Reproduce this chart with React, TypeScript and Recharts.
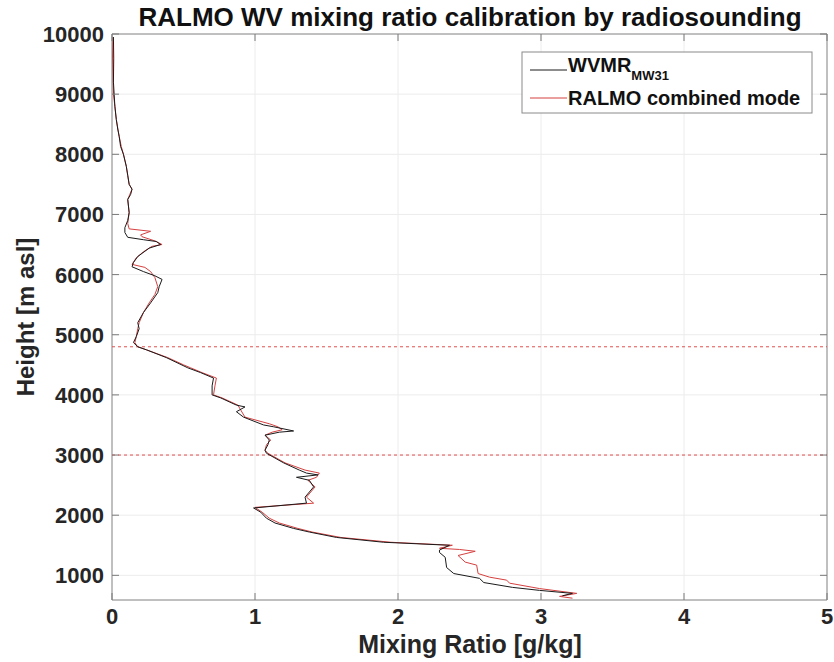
import { ScatterChart, Scatter, XAxis, YAxis, CartesianGrid, ReferenceLine, ReferenceArea } from 'recharts';

const xTicks = [0, 1, 2, 3, 4, 5];
const yTicks = [1000, 2000, 3000, 4000, 5000, 6000, 7000, 8000, 9000, 10000];
const limitHeights = [4800, 3000];

// WVMR (radiosonde) profile, top to bottom
const wvmrHeights = [
  9950, 9600, 9200, 9000, 8800, 8580, 8420, 8300, 8130, 8000, 7800, 7650, 7500, 7420, 7330, 7250, 7030, 6900, 6780,
  6700, 6620, 6580, 6550, 6500, 6440, 6300, 6200, 6130, 6050, 5980, 5920, 5800, 5700, 5530, 5370, 5200, 5100, 4970,
  4870, 4800, 4750, 4620, 4450, 4370, 4280, 4150, 4000, 3950, 3830, 3800, 3720, 3630, 3500, 3470, 3400, 3380, 3330,
  3250, 3170, 3080, 3030, 2870, 2750, 2700, 2670, 2630, 2580, 2470, 2300, 2200, 2120, 2050, 1950, 1870, 1780, 1720,
  1630, 1550, 1500, 1420, 1380, 1300, 1130, 1030, 950, 880, 800, 750, 700, 660,
];
const wvmrValues = [
  0.01, 0.012, 0.01, 0.015, 0.02, 0.03, 0.04, 0.05, 0.06, 0.08, 0.1, 0.11, 0.12, 0.14, 0.13, 0.11, 0.12, 0.11, 0.09,
  0.09, 0.11, 0.22, 0.31, 0.34, 0.26, 0.18, 0.15, 0.14, 0.22, 0.3, 0.35, 0.33, 0.32, 0.27, 0.22, 0.18, 0.19, 0.17,
  0.15, 0.18, 0.24, 0.38, 0.53, 0.62, 0.71, 0.7, 0.7, 0.76, 0.87, 0.93, 0.87, 0.92, 1.06, 1.13, 1.27, 1.17, 1.07,
  1.1, 1.09, 1.07, 1.08, 1.2, 1.31, 1.36, 1.44, 1.29, 1.38, 1.41, 1.35, 1.36, 0.99, 1.04, 1.08, 1.14, 1.27, 1.38,
  1.57, 1.9, 2.36, 2.29, 2.29, 2.33, 2.34, 2.39, 2.57, 2.6, 2.8, 2.99, 3.22, 3.15,
];

// RALMO combined mode profile, top to bottom
const ralmoHeights = [
  9950, 9500, 9000, 8800, 8580, 8300, 8130, 8000, 7800, 7500, 7420, 7250, 7030, 6850, 6760, 6720, 6660, 6630, 6560,
  6500, 6470, 6380, 6280, 6170, 6120, 6050, 5950, 5800, 5670, 5530, 5370, 5200, 5100, 4970, 4870, 4800, 4750, 4620,
  4500, 4450, 4370, 4280, 4150, 4000, 3950, 3830, 3750, 3630, 3520, 3470, 3420, 3380, 3330, 3250, 3170, 3080, 3030,
  2870, 2750, 2700, 2630, 2580, 2470, 2300, 2200, 2130, 2050, 1950, 1870, 1780, 1720, 1630, 1550, 1500, 1450, 1430,
  1400, 1330, 1220, 1170, 1030, 970, 920, 870, 780, 700, 650, 620,
];
const ralmoValues = [
  0.0, 0.005, 0.01, 0.02, 0.03, 0.05, 0.065, 0.08, 0.1, 0.12, 0.14, 0.11, 0.12, 0.11, 0.12, 0.27, 0.2, 0.21, 0.3,
  0.35, 0.28, 0.22, 0.17, 0.14, 0.23, 0.27, 0.3, 0.32, 0.3, 0.26, 0.22, 0.19, 0.18, 0.17, 0.16, 0.18, 0.24, 0.39,
  0.5, 0.55, 0.63, 0.73, 0.72, 0.71, 0.77, 0.88, 0.9, 0.93, 1.1, 1.16, 1.19, 1.12, 1.07, 1.11, 1.08, 1.07, 1.09,
  1.21, 1.35, 1.45, 1.43, 1.37, 1.42, 1.36, 1.41, 1.0, 1.05, 1.1, 1.17, 1.3, 1.4, 1.6, 1.95, 2.38, 2.29, 2.43,
  2.54, 2.42, 2.47, 2.55, 2.56, 2.64, 2.76, 2.78, 2.99, 3.25, 3.13, 3.22,
];

const toPoints = (hs: number[], vs: number[]) => hs.map((h, i) => ({ h, mr: vs[i] }));
const wvmrData = toPoints(wvmrHeights, wvmrValues);
const ralmoData = toPoints(ralmoHeights, ralmoValues);

const FONT = "'Liberation Sans', Arial, sans-serif";
const PLOT = { left: 112, right: 827, top: 34, bottom: 600 };
const Y_MIN = 590;

function XTick(props: any) {
  const { x, payload } = props;
  return (
    <g>
      <line x1={x} x2={x} y1={PLOT.bottom} y2={PLOT.bottom - 7} stroke="#7a7a7a" />
      <line x1={x} x2={x} y1={PLOT.top} y2={PLOT.top + 7} stroke="#7a7a7a" />
      <text x={x} y={624} textAnchor="middle" fontFamily={FONT} fontWeight="bold" fontSize={22} fill="#262626">
        {payload.value}
      </text>
    </g>
  );
}

function YTick(props: any) {
  const { y, payload } = props;
  return (
    <g>
      <line x1={PLOT.left} x2={PLOT.left + 7} y1={y} y2={y} stroke="#7a7a7a" />
      <line x1={PLOT.right} x2={PLOT.right - 7} y1={y} y2={y} stroke="#7a7a7a" />
      <text x={104} y={y + 8} textAnchor="end" fontFamily={FONT} fontWeight="bold" fontSize={22} fill="#262626">
        {payload.value}
      </text>
    </g>
  );
}

const noDot = () => <g />;

export default function App() {
  return (
    <div style={{ position: 'absolute', left: 0, top: 0, width: 834, height: 662, background: '#fff' }}>
      <ScatterChart width={834} height={662} margin={{ top: PLOT.top, right: 834 - PLOT.right, bottom: 0, left: 0 }}>
        <CartesianGrid stroke="#ececec" />
        <XAxis
          type="number"
          dataKey="mr"
          domain={[0, 5]}
          ticks={xTicks}
          height={662 - PLOT.bottom}
          axisLine={false}
          tickLine={false}
          tick={XTick}
          allowDataOverflow
        />
        <YAxis
          type="number"
          dataKey="h"
          domain={[Y_MIN, 10000]}
          ticks={yTicks}
          width={PLOT.left}
          axisLine={false}
          tickLine={false}
          tick={YTick}
          allowDataOverflow
        />
        <ReferenceArea x1={0} x2={5} y1={Y_MIN} y2={10000} fill="none" stroke="#8a8a8a" strokeWidth={1} />
        {limitHeights.map((h) => (
          <ReferenceLine key={h} y={h} stroke="#e05050" strokeDasharray="3 3" strokeWidth={1} />
        ))}
        <Scatter
          data={ralmoData}
          line={{ stroke: '#d64040', strokeWidth: 1 }}
          lineType="joint"
          shape={noDot}
          isAnimationActive={false}
        />
        <Scatter
          data={wvmrData}
          line={{ stroke: '#1a1a1a', strokeWidth: 1 }}
          lineType="joint"
          shape={noDot}
          isAnimationActive={false}
        />
      </ScatterChart>
      <svg width={834} height={662} style={{ position: 'absolute', left: 0, top: 0, pointerEvents: 'none' }}>
        <text x={470} y={26} textAnchor="middle" fontFamily={FONT} fontWeight="bold" fontSize={26} fill="#111">
          RALMO WV mixing ratio calibration by radiosounding
        </text>
        <text x={470} y={653} textAnchor="middle" fontFamily={FONT} fontWeight="bold" fontSize={25} fill="#262626">
          Mixing Ratio [g/kg]
        </text>
        <text
          x={0}
          y={0}
          transform={`translate(34, ${(PLOT.top + PLOT.bottom) / 2}) rotate(-90)`}
          textAnchor="middle"
          fontFamily={FONT}
          fontWeight="bold"
          fontSize={24}
          fill="#262626"
        >
          Height [m asl]
        </text>
        <rect x={522} y={52} width={290} height={61} fill="#fff" stroke="#8a8a8a" />
        <line x1={530} x2={567} y1={70} y2={70} stroke="#1a1a1a" />
        <line x1={530} x2={567} y1={98} y2={98} stroke="#d64040" />
        <text x={568} y={72} fontFamily={FONT} fontWeight="bold" fontSize={20} fill="#111">
          WVMR
          <tspan dy={8} fontSize={13}>
            MW31
          </tspan>
        </text>
        <text x={568} y={105} fontFamily={FONT} fontWeight="bold" fontSize={20} fill="#111">
          RALMO combined mode
        </text>
      </svg>
    </div>
  );
}
